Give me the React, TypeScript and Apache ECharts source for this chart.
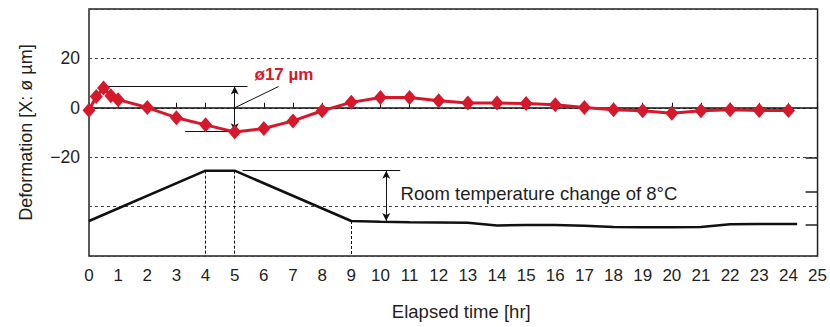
import React, { useEffect, useRef } from "react";
import * as echarts from "echarts";

// Deformation (µm) measured vs elapsed time (hr)
const hours = [0, 0.25, 0.5, 0.75, 1, 2, 3, 4, 5, 6, 7, 8, 9, 10, 11, 12, 13, 14, 15, 16, 17, 18, 19, 20, 21, 22, 23, 24];
const deformation = [-1, 4.6, 8.0, 4.9, 3.3, 0.1, -4.0, -6.9, -9.8, -8.4, -5.3, -1.2, 2.2, 4.2, 4.2, 2.9, 1.9, 1.9, 1.7, 1.2, 0.1, -0.8, -1.2, -2.2, -1.2, -0.8, -1.1, -1.1];

// Room temperature (°C) vs elapsed time (hr)
const tempHours = [0, 4, 5, 9, 10, 11, 12, 13, 14, 15, 16, 17, 18, 19, 20, 21, 22, 23, 24.3];
const temperature = [15.59, 23.07, 23.07, 15.59, 15.48, 15.4, 15.37, 15.33, 14.93, 15.0, 15.0, 14.88, 14.7, 14.66, 14.66, 14.7, 15.1, 15.15, 15.15];

const yTickLabels: Record<string, string> = { "20": "20", "0": "0", "-20": "\u221220" };
const tempTicks = [15, 20, 25];

const deformLabel = "ø17 µm";
const tempLabel = "Room temperature change of 8°C";

const FONT = "'Liberation Sans', Arial, Helvetica, sans-serif";
const TEXT = "#231f20";
const RED = "#d6182a";

export default function App() {
  const ref = useRef<HTMLDivElement>(null);

  useEffect(() => {
    if (!ref.current) return;
    const chart = echarts.init(ref.current, undefined, { renderer: "svg" });

    const peak = Math.max(...deformation);
    const low = -9.5;
    const tPeak = Math.max(...temperature);
    const tLow = temperature[3];
    const tMin = 10.394;
    const tMax = 47.09;
    const xMax = 25;

    const thin = { color: "#111", width: 1, type: "solid" as const };
    const dotted = { color: "#111", width: 1, type: [3, 2] as any };
    const tickStyle = { color: "#222", width: 1.5, type: "solid" as const };

    chart.setOption({
      animation: false,
      textStyle: { fontFamily: FONT, color: TEXT },
      grid: {
        left: 89,
        right: 6,
        top: 9,
        bottom: 71,
        show: true,
        borderColor: "#222",
        borderWidth: 1.5,
        backgroundColor: "transparent",
      },
      xAxis: [
        {
          type: "value",
          position: "bottom",
          min: 0,
          max: xMax,
          interval: 1,
          axisLine: { show: false, onZero: false },
          axisTick: { show: false },
          splitLine: { show: false },
          axisLabel: { fontSize: 17, color: TEXT, margin: 11, fontFamily: FONT },
          name: "Elapsed time [hr]",
          nameLocation: "middle",
          nameGap: 46,
          nameTextStyle: { fontSize: 18.5, color: TEXT, fontFamily: FONT, padding: [0, 0, 0, 16] },
        },
        {
          type: "value",
          position: "bottom",
          min: 0,
          max: xMax,
          interval: 1,
          axisLine: { show: true, onZero: true, onZeroAxisIndex: 0, lineStyle: { color: "#111", width: 1.5 } },
          axisTick: { show: true, inside: true, length: 5, lineStyle: { color: "#111", width: 1 } },
          axisLabel: { show: false },
          splitLine: { show: false },
        },
      ],
      yAxis: [
        {
          type: "value",
          position: "left",
          min: -60,
          max: 40,
          interval: 20,
          axisLine: { show: false },
          axisTick: { show: false },
          splitLine: { show: true, lineStyle: { color: "#444", width: 1, type: [3, 3] } },
          axisLabel: {
            fontSize: 17.5,
            color: TEXT,
            margin: 9,
            fontFamily: FONT,
            formatter: (v: number) => yTickLabels[String(v)] ?? "",
          },
          name: "Deformation [X: ø µm]",
          nameLocation: "middle",
          nameGap: 54,
          nameTextStyle: { fontSize: 18, color: TEXT, fontFamily: FONT },
        },
        {
          type: "value",
          position: "right",
          min: tMin,
          max: tMax,
          axisLine: { show: false },
          axisTick: { show: false },
          axisLabel: { show: false },
          splitLine: { show: false },
        },
      ],
      series: [
        {
          type: "line",
          name: "Room temperature",
          xAxisIndex: 0,
          yAxisIndex: 1,
          data: tempHours.map((h, i) => [h, temperature[i]]),
          symbol: "none",
          lineStyle: { color: "#111", width: 2.6 },
          itemStyle: { color: "#111" },
          z: 3,
          silent: true,
          markLine: {
            silent: true,
            symbol: ["none", "none"],
            label: { show: false },
            emphasis: { disabled: true },
            data: [
              [
                { coord: [4, tPeak], lineStyle: dotted },
                { coord: [4, tMin] },
              ],
              [
                { coord: [5, tPeak], lineStyle: dotted },
                { coord: [5, tMin] },
              ],
              [
                { coord: [9, tLow], lineStyle: dotted },
                { coord: [9, tMin] },
              ],
              [
                { coord: [5.27, tPeak], lineStyle: thin },
                { coord: [10.68, tPeak] },
              ],
              [
                { coord: [10.2, tPeak], lineStyle: thin, symbol: "arrow", symbolSize: [6, 8] },
                { coord: [10.2, tLow], symbol: "arrow", symbolSize: [6, 8] },
              ],
              ...tempTicks.map((t) => [
                { coord: [xMax - 0.41, t], lineStyle: tickStyle },
                { coord: [xMax, t] },
              ]),
            ],
          },
          markPoint: {
            silent: true,
            symbol: "circle",
            symbolSize: 0,
            data: [
              {
                coord: [10.69, 19.71],
                label: {
                  show: true,
                  formatter: tempLabel,
                  position: "right",
                  distance: 0,
                  fontSize: 18.5,
                  color: TEXT,
                  fontFamily: FONT,
                },
              },
            ],
          },
        },
        {
          type: "line",
          name: "Deformation",
          xAxisIndex: 0,
          yAxisIndex: 0,
          data: hours.map((h, i) => [h, deformation[i]]),
          symbol: "diamond",
          symbolSize: [13, 15],
          lineStyle: { color: RED, width: 3 },
          itemStyle: { color: RED },
          z: 5,
          silent: true,
          markLine: {
            silent: true,
            symbol: ["none", "none"],
            label: { show: false },
            emphasis: { disabled: true },
            data: [
              [
                { coord: [0.51, peak + 0.6], lineStyle: thin },
                { coord: [5.44, peak + 0.6] },
              ],
              [
                { coord: [3.3, low], lineStyle: thin },
                { coord: [5.44, low] },
              ],
              [
                { coord: [5, peak + 0.6], lineStyle: thin, symbol: "arrow", symbolSize: [6, 8] },
                { coord: [5, low], symbol: "arrow", symbolSize: [6, 8] },
              ],
              [
                { coord: [5, 0], lineStyle: thin },
                { coord: [6.5, peak + 0.6] },
              ],
            ],
          },
          markPoint: {
            silent: true,
            symbol: "circle",
            symbolSize: 0,
            data: [
              {
                coord: [5.68, 13.5],
                label: {
                  show: true,
                  formatter: deformLabel,
                  position: "right",
                  distance: 0,
                  fontSize: 17,
                  fontWeight: "bold",
                  color: RED,
                  fontFamily: FONT,
                },
              },
            ],
          },
        },
      ],
    });

    return () => chart.dispose();
  }, []);

  return (
    <div
      ref={ref}
      style={{ position: "fixed", left: 0, top: 0, width: 830, height: 327, background: "#fff" }}
    />
  );
}
